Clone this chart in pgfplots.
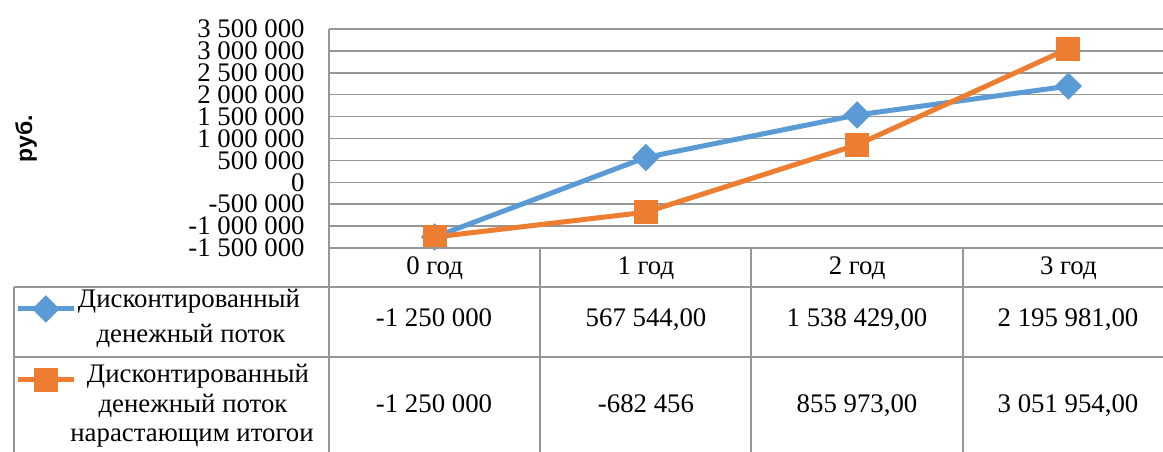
\documentclass[border=0pt]{standalone}
\usepackage{fontspec}
\setmainfont{Liberation Serif}
\newfontfamily\arialfont{Liberation Sans}
\usepackage{pgfplots}
\pgfplotsset{compat=1.18}
\definecolor{dblue}{RGB}{91,155,213}
\definecolor{dorange}{RGB}{237,125,49}
\definecolor{gridgray}{RGB}{150,150,150}

\begin{document}
\begin{tikzpicture}[font=\fontsize{13.4pt}{16pt}\selectfont]
\begin{axis}[
    at={(164.5pt,-124pt)}, anchor=south west,
    width=422.5pt, height=109.5pt, scale only axis,
    xmin=-0.5, xmax=3.5,
    ymin=-1500000, ymax=3500000,
    xtick={0,1,2,3},
    xticklabels={0 год,1 год,2 год,3 год},
    xticklabel style={anchor=mid, yshift=-11pt},
    ytick={-1500000,-1000000,-500000,0,500000,1000000,1500000,2000000,2500000,3000000,3500000},
    yticklabels={-1 500 000,-1 000 000,-500 000,0,500 000,1 000 000,1 500 000,2 000 000,2 500 000,3 000 000,3 500 000},
    scaled y ticks=false,
    yticklabel style={anchor=east, inner sep=0pt, xshift=-12pt},
    major tick length=0pt,
    ymajorgrids, grid style={gridgray, line width=0.75pt},
    axis line style={draw=none},
    ylabel={руб.},
    ylabel style={font=\arialfont\bfseries\fontsize{11.5pt}{13pt}\selectfont,
        at={(axis description cs:-0.3586,0.5)}, anchor=center},
    legend image code/.code={
        \draw[#1, mark repeat=2, mark phase=2] plot coordinates {(0pt,0pt) (14pt,0pt) (28pt,0pt)};},
    legend style={at={(axis description cs:-0.3716,-0.23)}, anchor=north west,
        draw=none, fill=none, inner sep=0pt, row sep=25.5pt,
        nodes={inner sep=0pt}},
    clip=false,
]
\addplot[dblue, line width=2.5pt, mark=square*, mark size=3.6pt,
    mark options={rotate=45}] coordinates {
    (0, -1250000) (1, 567544) (2, 1538429) (3, 2195981)};
\addlegendentry{}
\addplot[dorange, line width=2.5pt, mark=square*, mark size=4.75pt] coordinates {
    (0, -1250000) (1, -682456) (2, 855973) (3, 3051954)};
\addlegendentry{}
\end{axis}

% data table (pixel units, y down)
\begin{scope}[x=0.5pt, y=-0.5pt]
\draw[gridgray, line width=0.75pt] (329,29) -- (329,460);
\draw[gridgray, line width=0.75pt] (329,248) -- (1180,248);
\draw[gridgray, line width=0.75pt] (14,287) -- (1180,287);
\draw[gridgray, line width=0.75pt] (14,357) -- (1180,357);
\draw[gridgray, line width=0.75pt] (14,287) -- (14,460);
\foreach \xx in {540,751,963}
    \draw[gridgray, line width=0.75pt] (\xx,248) -- (\xx,460);
\node[anchor=mid] at (189,303) {Дисконтированный};
\node[anchor=mid] at (191,338) {денежный поток};
\node[anchor=mid] at (198,378) {Дисконтированный};
\node[anchor=mid] at (193,408) {денежный поток};
\node[anchor=mid] at (192,437) {нарастающим итогои};
\node[anchor=mid] at (434,322) {-1 250 000};
\node[anchor=mid] at (646,322) {567 544,00};
\node[anchor=mid] at (857,322) {1 538 429,00};
\node[anchor=mid] at (1068,322) {2 195 981,00};
\node[anchor=mid] at (434,408) {-1 250 000};
\node[anchor=mid] at (646,408) {-682 456};
\node[anchor=mid] at (857,408) {855 973,00};
\node[anchor=mid] at (1068,408) {3 051 954,00};
\end{scope}
\pgfresetboundingbox
\useasboundingbox (0,0) rectangle (581.5pt,-225.5pt);
\end{tikzpicture}
\end{document}
